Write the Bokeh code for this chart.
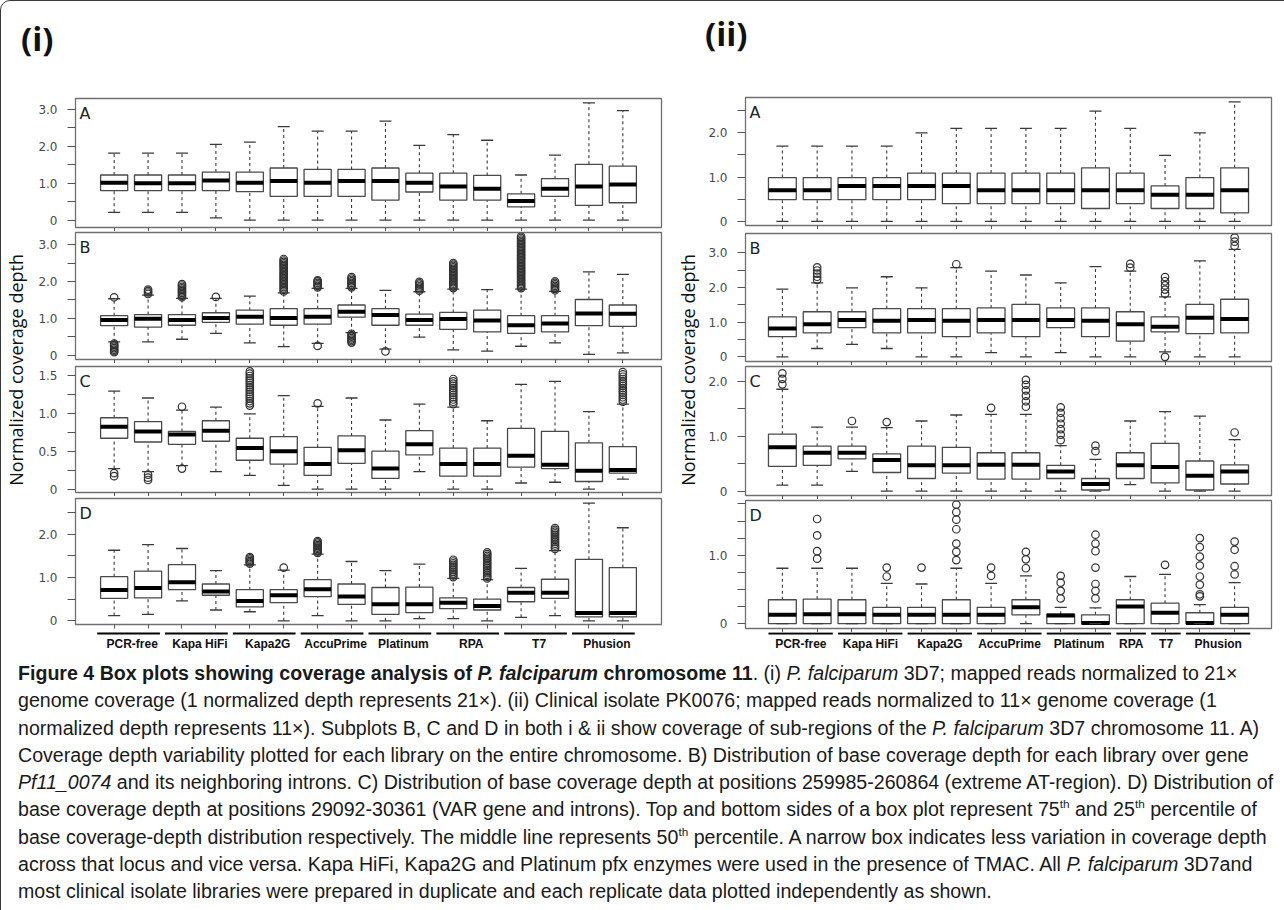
import math
from bokeh.plotting import figure
from bokeh.models import Range1d, FixedTicker, Label, Div, ColumnDataSource
from bokeh.layouts import column, row
from bokeh.embed import file_html
from bokeh.resources import INLINE
from bokeh.core.properties import value

# ---------------- categories ----------------
GROUPS = ["PCR-free", "Kapa HiFi", "Kapa2G", "AccuPrime", "Platinum", "RPA", "T7", "Phusion"]
LEFT_GROUP_FIRST = [1, 3, 5, 7, 9, 11, 13, 15]
LEFT_GROUP_LAST = [2, 4, 6, 8, 10, 12, 14, 16]
RIGHT_GROUP_FIRST = [1, 3, 5, 7, 9, 11, 12, 13]
RIGHT_GROUP_LAST = [2, 4, 6, 8, 10, 11, 12, 14]

# ---------------- (i) panel A ----------------
LA_hi = [1.81, 1.81, 1.81, 2.05, 2.11, 2.53, 2.41, 2.41, 2.68, 2.02, 2.31, 2.16, 1.22, 1.76, 3.17, 2.96]
LA_q3 = [1.22, 1.22, 1.22, 1.30, 1.30, 1.41, 1.37, 1.37, 1.41, 1.27, 1.27, 1.21, 0.71, 1.12, 1.51, 1.46]
LA_med = [1.01, 1.00, 1.00, 1.07, 1.01, 1.06, 1.01, 1.06, 1.06, 1.01, 0.91, 0.85, 0.52, 0.85, 0.91, 0.96]
LA_q1 = [0.80, 0.80, 0.80, 0.80, 0.77, 0.64, 0.64, 0.64, 0.54, 0.76, 0.54, 0.54, 0.36, 0.64, 0.40, 0.47]
LA_lo = [0.21, 0.21, 0.21, 0.06, 0.0, 0.0, 0.0, 0.0, 0.0, 0.0, 0.0, 0.0, 0.0, 0.0, 0.0, 0.0]
LA_out = [[], [], [], [], [], [], [], [], [], [], [], [], [], [], [], []]

# ---------------- (i) panel B ----------------
LB_hi = [1.53, 1.63, 1.54, 1.54, 1.60, 1.69, 1.81, 1.81, 1.76, 1.72, 1.79, 1.78, 1.79, 1.73, 2.26, 2.19]
LB_q3 = [1.07, 1.10, 1.10, 1.15, 1.22, 1.26, 1.26, 1.36, 1.26, 1.11, 1.16, 1.22, 1.07, 1.07, 1.51, 1.36]
LB_med = [0.95, 0.99, 0.95, 1.01, 1.04, 1.01, 1.04, 1.18, 1.09, 0.95, 0.98, 0.94, 0.81, 0.86, 1.13, 1.12]
LB_q1 = [0.80, 0.76, 0.81, 0.89, 0.84, 0.81, 0.84, 1.03, 0.81, 0.81, 0.70, 0.63, 0.59, 0.63, 0.80, 0.78]
LB_lo = [0.36, 0.36, 0.43, 0.59, 0.33, 0.23, 0.32, 0.61, 0.16, 0.49, 0.14, 0.11, 0.24, 0.33, 0.02, 0.06]
LB_out = [
    [1.57, 0.31, 0.27, 0.23, 0.19, 0.15, 0.11, 0.08],
    [1.66, 1.70, 1.74, 1.78],
    [1.57, 1.61, 1.65, 1.69, 1.73, 1.77, 1.81, 1.85, 1.89, 1.93],
    [1.58],
    [],
    [1.73, 1.77, 1.81, 1.85, 1.89, 1.93, 1.97, 2.01, 2.05, 2.09, 2.13, 2.17, 2.21, 2.25, 2.29, 2.33,
     2.37, 2.41, 2.45, 2.49, 2.53, 2.57, 2.61],
    [1.84, 1.88, 1.92, 1.96, 2.00, 2.03, 0.25],
    [1.84, 1.88, 1.92, 1.96, 2.00, 2.04, 2.08, 2.12, 0.58, 0.54, 0.50, 0.46, 0.42, 0.38, 0.34],
    [0.10],
    [1.75, 1.79, 1.83, 1.87, 1.91, 1.95, 1.99],
    [1.82, 1.86, 1.90, 1.94, 1.98, 2.02, 2.06, 2.10, 2.14, 2.18, 2.22, 2.26, 2.30, 2.34, 2.38, 2.42,
     2.46, 2.50],
    [],
    [1.82, 1.86, 1.90, 1.94, 1.98, 2.02, 2.06, 2.10, 2.14, 2.18, 2.22, 2.26, 2.30, 2.34, 2.38, 2.42,
     2.46, 2.50, 2.54, 2.58, 2.62, 2.66, 2.70, 2.74, 2.78, 2.82, 2.86, 2.90, 2.94, 2.98, 3.02, 3.06,
     3.10, 3.14, 3.18, 3.22],
    [1.76, 1.80, 1.84, 1.88, 1.92, 1.96, 2.00],
    [],
    [],
]

# ---------------- (i) panel C ----------------
LC_hi = [1.29, 1.20, 1.04, 1.08, 0.99, 1.23, 1.09, 1.20, 0.91, 1.12, 1.08, 0.90, 1.38, 1.42, 1.02, 1.12]
LC_q3 = [0.94, 0.89, 0.76, 0.90, 0.67, 0.69, 0.55, 0.70, 0.50, 0.77, 0.54, 0.54, 0.80, 0.76, 0.61, 0.56]
LC_med = [0.82, 0.76, 0.72, 0.77, 0.54, 0.50, 0.33, 0.51, 0.27, 0.59, 0.33, 0.33, 0.44, 0.32, 0.24, 0.25]
LC_q1 = [0.67, 0.62, 0.59, 0.63, 0.38, 0.33, 0.18, 0.34, 0.14, 0.45, 0.17, 0.17, 0.29, 0.27, 0.10, 0.21]
LC_lo = [0.27, 0.23, 0.31, 0.23, 0.18, 0.05, 0.0, 0.0, 0.0, 0.23, 0.0, 0.0, 0.08, 0.09, 0.0, 0.13]
LC_out = [
    [0.21, 0.17],
    [0.19, 0.15, 0.12],
    [1.085, 0.27],
    [],
    [1.10, 1.13, 1.16, 1.19, 1.22, 1.25, 1.28, 1.31, 1.34, 1.37, 1.40, 1.43, 1.46, 1.49, 1.52, 1.55],
    [],
    [1.13],
    [],
    [],
    [],
    [1.12, 1.15, 1.18, 1.21, 1.24, 1.27, 1.30, 1.33, 1.36, 1.39, 1.42, 1.45],
    [],
    [],
    [],
    [],
    [1.15, 1.18, 1.21, 1.24, 1.27, 1.30, 1.33, 1.36, 1.39, 1.42, 1.45, 1.48, 1.51, 1.54],
]

# ---------------- (i) panel D ----------------
LD_hi = [1.63, 1.76, 1.67, 1.16, 1.29, 1.17, 1.54, 1.37, 1.16, 1.31, 0.98, 0.95, 1.21, 1.62, 2.72, 2.15]
LD_q3 = [1.02, 1.15, 1.30, 0.85, 0.72, 0.72, 0.95, 0.85, 0.77, 0.78, 0.53, 0.50, 0.77, 0.96, 1.42, 1.23]
LD_med = [0.71, 0.76, 0.89, 0.68, 0.46, 0.59, 0.73, 0.56, 0.38, 0.38, 0.42, 0.34, 0.65, 0.65, 0.18, 0.18]
LD_q1 = [0.52, 0.53, 0.72, 0.59, 0.32, 0.42, 0.56, 0.38, 0.15, 0.19, 0.28, 0.25, 0.44, 0.52, 0.09, 0.09]
LD_lo = [0.12, 0.15, 0.46, 0.25, 0.21, 0.0, 0.12, 0.0, 0.0, 0.05, 0.05, 0.0, 0.08, 0.12, 0.0, 0.0]
LD_out = [
    [], [], [], [],
    [1.32, 1.35, 1.38, 1.41, 1.44, 1.47],
    [1.23],
    [1.57, 1.60, 1.63, 1.66, 1.69, 1.72, 1.75, 1.78, 1.81, 1.84],
    [], [], [],
    [1.01, 1.05, 1.09, 1.13, 1.17, 1.21, 1.25, 1.29, 1.33, 1.37, 1.41],
    [0.98, 1.02, 1.06, 1.10, 1.14, 1.18, 1.22, 1.26, 1.30, 1.34, 1.38, 1.42, 1.46, 1.50, 1.54, 1.58],
    [],
    [1.66, 1.70, 1.74, 1.78, 1.82, 1.86, 1.90, 1.94, 1.98, 2.02, 2.06, 2.10, 2.14],
    [], [],
]

# ---------------- (ii) panel A ----------------
RA_hi = [1.70, 1.70, 1.70, 1.70, 2.00, 2.10, 2.10, 2.10, 2.10, 2.49, 2.10, 1.49, 2.00, 2.70]
RA_q3 = [0.99, 0.99, 0.99, 0.99, 1.09, 1.09, 1.09, 1.09, 1.09, 1.21, 1.09, 0.80, 0.99, 1.21]
RA_med = [0.70, 0.70, 0.80, 0.80, 0.80, 0.80, 0.70, 0.70, 0.70, 0.70, 0.70, 0.60, 0.60, 0.70]
RA_q1 = [0.49, 0.49, 0.49, 0.49, 0.49, 0.40, 0.40, 0.40, 0.40, 0.29, 0.40, 0.29, 0.29, 0.19]
RA_lo = [0.0, 0.0, 0.0, 0.0, 0.0, 0.0, 0.0, 0.0, 0.0, 0.0, 0.0, 0.0, 0.0, 0.0]
RA_out = [[], [], [], [], [], [], [], [], [], [], [], [], [], []]

# ---------------- (ii) panel B ----------------
RB_hi = [1.95, 2.13, 1.99, 2.31, 1.99, 2.57, 2.47, 2.36, 2.13, 2.60, 2.47, 1.73, 2.77, 3.10]
RB_q3 = [1.15, 1.30, 1.30, 1.39, 1.39, 1.39, 1.41, 1.51, 1.41, 1.41, 1.30, 1.15, 1.51, 1.66]
RB_med = [0.82, 0.94, 1.06, 1.04, 1.06, 1.04, 1.06, 1.06, 1.06, 1.04, 0.94, 0.87, 1.13, 1.09]
RB_q1 = [0.58, 0.69, 0.84, 0.69, 0.69, 0.58, 0.69, 0.58, 0.84, 0.58, 0.45, 0.72, 0.67, 0.69]
RB_lo = [0.0, 0.24, 0.36, 0.24, 0.0, 0.0, 0.12, 0.0, 0.12, 0.0, 0.0, 0.14, 0.0, 0.0]
RB_out = [
    [],
    [2.22, 2.31, 2.40, 2.49, 2.58],
    [], [], [],
    [2.67],
    [], [], [], [],
    [2.57, 2.68],
    [1.82, 1.94, 2.06, 2.18, 2.30, 0.0],
    [],
    [3.20, 3.32, 3.44],
]

# ---------------- (ii) panel C ----------------
RC_hi = [1.86, 1.17, 1.17, 1.16, 1.28, 1.39, 1.40, 1.40, 0.83, 0.58, 1.28, 1.45, 1.37, 0.94]
RC_q3 = [1.04, 0.82, 0.82, 0.68, 0.82, 0.80, 0.70, 0.70, 0.47, 0.23, 0.70, 0.87, 0.55, 0.48]
RC_med = [0.80, 0.70, 0.70, 0.57, 0.47, 0.47, 0.48, 0.48, 0.36, 0.13, 0.47, 0.44, 0.28, 0.36]
RC_q1 = [0.45, 0.47, 0.59, 0.34, 0.23, 0.33, 0.22, 0.22, 0.23, 0.02, 0.23, 0.15, 0.02, 0.13]
RC_lo = [0.11, 0.11, 0.36, 0.0, 0.0, 0.0, 0.0, 0.0, 0.0, 0.0, 0.12, 0.0, 0.0, 0.0]
RC_out = [
    [1.95, 2.05, 2.15],
    [],
    [1.28],
    [1.26],
    [], [],
    [1.52],
    [1.54, 1.64, 1.74, 1.84, 1.94, 2.03],
    [0.93, 1.03, 1.13, 1.23, 1.33, 1.43, 1.53],
    [0.73, 0.83],
    [], [], [],
    [1.07],
]

# ---------------- (ii) panel D ----------------
RD_hi = [0.81, 0.81, 0.81, 0.59, 0.58, 0.81, 0.59, 0.70, 0.24, 0.23, 0.69, 0.72, 0.28, 0.60]
RD_q3 = [0.35, 0.36, 0.35, 0.24, 0.24, 0.35, 0.24, 0.35, 0.14, 0.13, 0.35, 0.30, 0.16, 0.24]
RD_med = [0.13, 0.14, 0.14, 0.13, 0.13, 0.13, 0.13, 0.24, 0.12, 0.01, 0.25, 0.16, 0.01, 0.13]
RD_q1 = [0.0, 0.0, 0.0, 0.0, 0.0, 0.0, 0.0, 0.13, 0.0, 0.0, 0.0, 0.0, 0.0, 0.0]
RD_lo = [0.0, 0.0, 0.0, 0.0, 0.0, 0.0, 0.0, 0.0, 0.0, 0.0, 0.0, 0.0, 0.0, 0.0]
RD_out = [
    [],
    [0.95, 1.06, 1.29, 1.53],
    [],
    [0.69, 0.82],
    [0.82],
    [0.93, 1.05, 1.17, 1.38, 1.52, 1.63, 1.74],
    [0.70, 0.82],
    [0.81, 0.94, 1.05],
    [0.37, 0.48, 0.60, 0.70],
    [0.37, 0.48, 0.58, 0.82, 1.06, 1.17, 1.30],
    [],
    [0.86],
    [0.40, 0.43, 0.57, 0.69, 0.85, 0.98, 1.12, 1.25],
    [0.72, 0.84, 1.08, 1.20],
]

# ---------------- axis ticks ----------------
TICKS_0_3 = [0.0, 0.5, 1.0, 1.5, 2.0, 2.5, 3.0]
LABELS_0_3 = ["0", "", "1.0", "", "2.0", "", "3.0"]
TICKS_0_15 = [0.0, 0.25, 0.5, 0.75, 1.0, 1.25, 1.5]
LABELS_0_15 = ["0", "", "0.5", "", "1.0", "", "1.5"]
TICKS_0_25 = [0.0, 0.5, 1.0, 1.5, 2.0, 2.5]
LABELS_0_25 = ["0", "", "1.0", "", "2.0", ""]
TICKS_0_2 = [0.0, 0.5, 1.0, 1.5, 2.0]
LABELS_0_2 = ["0", "", "1.0", "", "2.0"]
TICKS_0_175 = [0.0, 0.25, 0.5, 0.75, 1.0, 1.25, 1.5, 1.75]
LABELS_0_175 = ["0", "", "", "", "1.0", "", "", ""]

SUP = '<sup style="font-size:0.6em;line-height:0;vertical-align:0.7em;">{}</sup>'
CAPTION_LINES = [
    "<b>Figure 4 Box plots showing coverage analysis of <i>P. falciparum</i> chromosome 11</b>. (i) <i>P. falciparum</i> 3D7; mapped reads normalized to 21&times;",
    "genome coverage (1 normalized depth represents 21&times;). (ii) Clinical isolate PK0076; mapped reads normalized to 11&times; genome coverage (1",
    "normalized depth represents 11&times;). Subplots B, C and D in both i &amp; ii show coverage of sub-regions of the <i>P. falciparum</i> 3D7 chromosome 11. A)",
    "Coverage depth variability plotted for each library on the entire chromosome. B) Distribution of base coverage depth for each library over gene",
    "<i>Pf11_0074</i> and its neighboring introns. C) Distribution of base coverage depth at positions 259985-260864 (extreme AT-region). D) Distribution of",
    "base coverage depth at positions 29092-30361 (VAR gene and introns). Top and bottom sides of a box plot represent 75" + SUP.format("th") + " and 25" + SUP.format("th") + " percentile of",
    "base coverage-depth distribution respectively. The middle line represents 50" + SUP.format("th") + " percentile. A narrow box indicates less variation in coverage depth",
    "across that locus and vice versa. Kapa HiFi, Kapa2G and Platinum pfx enzymes were used in the presence of TMAC. All <i>P. falciparum</i> 3D7and",
    "most clinical isolate libraries were prepared in duplicate and each replicate data plotted independently as shown.",
]

FRAME = "#707070"
INK = "#3a3a3a"


def build_panel(letter, hi, q3, med, q1, lo, outs, xr, yr, ticks, labels,
                width, height, bl, br, bt, bb):
    xs = list(range(1, len(med) + 1))
    p = figure(width=width, height=height, x_range=xr, y_range=Range1d(*yr),
               output_backend="svg", toolbar_location=None,
               min_border_left=bl, min_border_right=br,
               min_border_top=bt, min_border_bottom=bb)
    p.grid.visible = False
    p.outline_line_color = FRAME
    p.outline_line_width = 1.3
    p.background_fill_color = "white"
    p.border_fill_color = None
    src = ColumnDataSource(dict(x=xs, hi=hi, q3=q3, med=med, q1=q1, lo=lo))
    p.segment(x0="x", y0="q3", x1="x", y1="hi", source=src, line_color=INK,
              line_width=1.1, line_dash="3 3")
    p.segment(x0="x", y0="lo", x1="x", y1="q1", source=src, line_color=INK,
              line_width=1.1, line_dash="3 3")
    p.vbar(x="x", width=0.8, top="q3", bottom="q1", source=src,
           fill_color="white", line_color="#4a4a4a", line_width=1.3)
    p.rect(x="x", y="med", width=0.8, height=4, height_units="screen", source=src,
           fill_color="black", line_color=None)
    p.scatter(x="x", y="hi", marker="dash", size=12, source=src, line_color=INK, line_width=1.3)
    p.scatter(x="x", y="lo", marker="dash", size=12, source=src, line_color=INK, line_width=1.3)
    ox, oy = [], []
    for i, vals in enumerate(outs):
        for v in vals:
            ox.append(i + 1)
            oy.append(v)
    if ox:
        p.scatter(ox, oy, marker="circle", size=7.5, fill_color=None,
                  line_color="#333333", line_width=1.2)
    p.yaxis.ticker = FixedTicker(ticks=ticks)
    p.yaxis.major_label_overrides = {t: lab for t, lab in zip(ticks, labels)}
    p.yaxis.major_label_text_font = "DejaVu Sans"
    p.yaxis.major_label_text_font_size = "12px"
    p.yaxis.major_label_text_color = "#4a4a4a"
    p.yaxis.major_tick_out = 8
    p.yaxis.major_tick_in = 0
    p.yaxis.minor_tick_line_color = None
    p.yaxis.major_tick_line_color = "#555555"
    p.yaxis.axis_line_color = None
    p.yaxis.major_label_standoff = 10
    p.xaxis.ticker = FixedTicker(ticks=xs)
    p.xaxis.major_label_text_font_size = "1px"
    p.xaxis.major_label_text_alpha = 0
    p.xaxis.major_label_standoff = 0
    p.xaxis.major_tick_out = 4
    p.xaxis.major_tick_in = 0
    p.xaxis.major_tick_line_color = "#555555"
    p.xaxis.minor_tick_line_color = None
    p.xaxis.axis_line_color = None
    p.add_layout(Label(x=xr.start, y=yr[1], x_offset=4, y_offset=-5, text=letter,
                       text_baseline="top", text_align="left", text_font="DejaVu Sans",
                       text_font_size="16px", text_color="#222222"))
    return p


def build_strip(first, last, xr, width, height, bl, br, yline, ytext, off_lo, off_hi):
    p = figure(width=width, height=height, x_range=xr, y_range=Range1d(0, 1),
               output_backend="svg", toolbar_location=None,
               x_axis_type=None, y_axis_type=None,
               min_border_left=bl, min_border_right=br, min_border_top=0, min_border_bottom=0)
    p.grid.visible = False
    p.outline_line_color = None
    x0 = [f - off_lo for f in first]
    x1 = [l + off_hi for l in last]
    xc = [(f + l) / 2 + 0.03 for f, l in zip(first, last)]
    p.segment(x0=x0, y0=[yline] * len(x0), x1=x1, y1=[yline] * len(x0),
              line_color="black", line_width=2.2)
    p.text(x=xc, y=[ytext] * len(xc), text=GROUPS, text_align="center", text_baseline="middle",
           text_font=value("Liberation Sans"), text_font_style="bold",
           text_font_size="12px", text_color="#111111")
    return p


def build_ylabel(width, height, xfrac, yfrac):
    p = figure(width=width, height=height, x_range=Range1d(0, 1), y_range=Range1d(0, 1),
               output_backend="svg", toolbar_location=None,
               x_axis_type=None, y_axis_type=None, min_border=0)
    p.grid.visible = False
    p.outline_line_color = None
    p.add_layout(Label(x=xfrac, y=yfrac, angle=math.pi / 2, text="Normalized coverage depth",
                       text_align="center", text_baseline="middle", text_font="Open Sans",
                       text_font_size="18px", text_color="#111111"))
    return p


# ---------------- left block (i) ----------------
LXR = Range1d(-0.14, 17.14)
LW, LBL, LBR = 632, 42, 4
la = build_panel("A", LA_hi, LA_q3, LA_med, LA_q1, LA_lo, LA_out, LXR, (-0.2, 3.29),
                 TICKS_0_3, LABELS_0_3, LW, 136, LBL, LBR, 3, 4)
lb = build_panel("B", LB_hi, LB_q3, LB_med, LB_q1, LB_lo, LB_out, LXR, (-0.12, 3.33),
                 TICKS_0_3, LABELS_0_3, LW, 132, LBL, LBR, 1, 4)
lc = build_panel("C", LC_hi, LC_q3, LC_med, LC_q1, LC_lo, LC_out, LXR, (-0.045, 1.615),
                 TICKS_0_15, LABELS_0_15, LW, 133, LBL, LBR, 3, 4)
ld = build_panel("D", LD_hi, LD_q3, LD_med, LD_q1, LD_lo, LD_out, LXR, (-0.085, 2.825),
                 TICKS_0_25, LABELS_0_25, LW, 134, LBL, LBR, 2, 6)
ls = build_strip(LEFT_GROUP_FIRST, LEFT_GROUP_LAST, LXR, LW, 25, LBL, LBR, 0.88, 0.48, 0.5, 0.35)
left_block = row(build_ylabel(32, 560, 0.44, 0.51), column(la, lb, lc, ld, ls))

# ---------------- right block (ii) ----------------
RXR = Range1d(-0.06, 15.06)
RW, RBL, RBR = 568, 38, 2
ra = build_panel("A", RA_hi, RA_q3, RA_med, RA_q1, RA_lo, RA_out, RXR, (-0.095, 2.8),
                 TICKS_0_25, LABELS_0_25, RW, 134, RBL, RBR, 2, 4)
rb = build_panel("B", RB_hi, RB_q3, RB_med, RB_q1, RB_lo, RB_out, RXR, (-0.135, 3.557),
                 TICKS_0_3, LABELS_0_3, RW, 136, RBL, RBR, 4, 4)
rc = build_panel("C", RC_hi, RC_q3, RC_med, RC_q1, RC_lo, RC_out, RXR, (-0.08, 2.275),
                 TICKS_0_2, LABELS_0_2, RW, 134, RBL, RBR, 1, 4)
rd = build_panel("D", RD_hi, RD_q3, RD_med, RD_q1, RD_lo, RD_out, RXR, (-0.07, 1.8),
                 TICKS_0_175, LABELS_0_175, RW, 133, RBL, RBR, 1, 4)
rs = build_strip(RIGHT_GROUP_FIRST, RIGHT_GROUP_LAST, RXR, RW, 23, RBL, RBR, 0.96, 0.52, 0.4, 0.45)
right_block = row(build_ylabel(40, 560, 0.55, 0.51), column(ra, rb, rc, rd, rs))

# ---------------- header & caption ----------------
hdr_style = "font-family:'Open Sans',sans-serif;font-weight:bold;font-size:33px;line-height:36px;color:#111;"
head_left = Div(text=f'<div style="{hdr_style}padding-left:15px;padding-top:15px;">(i)</div>',
                width=664, height=84)
head_right = Div(text=f'<div style="{hdr_style}padding-left:25px;padding-top:10px;">(ii)</div>',
                 width=608, height=84)
header = row(head_left, head_right)

line_html = "".join(
    f'<div style="white-space:nowrap;height:27.3px;line-height:27.3px;overflow:visible;">{ln}</div>'
    for ln in CAPTION_LINES)
caption = Div(text=f'<div style="font-family:\'Liberation Sans\',sans-serif;font-size:19.6px;'
                   f'color:#1a1a1a;padding-left:12px;padding-top:0px;">{line_html}</div>',
              width=1272, height=256)

root = column(header, row(left_block, right_block), caption,
              styles={"border": "1.5px solid #3a3a3a", "border-radius": "10px"})

open("out.html", "w").write(file_html(root, INLINE))
